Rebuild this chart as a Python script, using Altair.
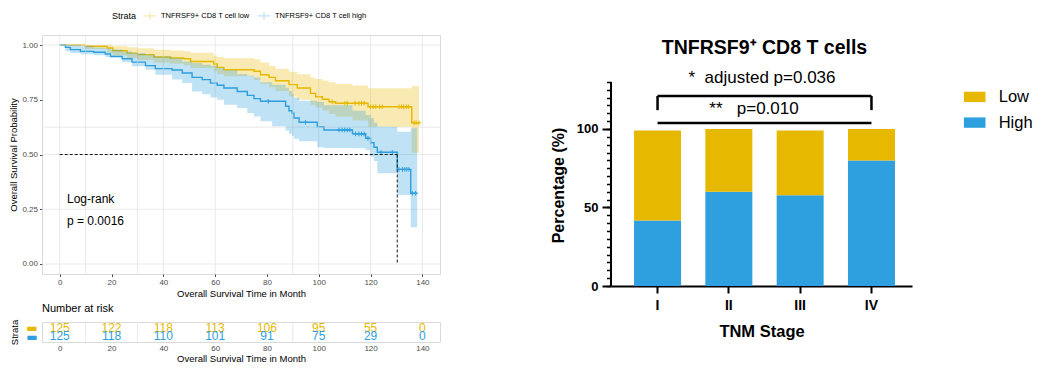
import altair as alt
import pandas as pd

LOW = "TNFRSF9+ CD8 T cell low"
HIGH = "TNFRSF9+ CD8 T cell high"
YELLOW = "#E7B800"
BLUE = "#2E9FDF"
FONT = "Liberation Sans"
GRAY = "#4D4D4D"
NB = "\u00a0"

# ---------------- Kaplan-Meier data ----------------
low_time = [0, 9.9, 18.3, 20.5, 26.0, 30.0, 36.3, 42.6, 47.9, 50.5, 59.5, 60.8, 63.4, 75.0,
            77.5, 80.8, 83.3, 88.5, 91.7, 96.8, 98.8, 101.4, 103.9, 106.5, 113.0, 119.0, 135.9, 138.7]
low_surv = [1.0, 0.994, 0.986, 0.974, 0.963, 0.956, 0.945, 0.941, 0.937, 0.925, 0.913, 0.898, 0.887, 0.880,
            0.864, 0.852, 0.837, 0.819, 0.804, 0.779, 0.764, 0.752, 0.741, 0.734, 0.734, 0.718, 0.645, 0.645]
low_lower = [1.0, 0.982, 0.965, 0.952, 0.940, 0.932, 0.920, 0.914, 0.908, 0.895, 0.880, 0.866, 0.857, 0.840,
             0.822, 0.807, 0.790, 0.765, 0.750, 0.727, 0.715, 0.700, 0.685, 0.672, 0.655, 0.627, 0.508, 0.508]
low_upper = [1.0, 1.0, 1.0, 0.995, 0.990, 0.985, 0.978, 0.975, 0.972, 0.965, 0.952, 0.945, 0.940, 0.935,
             0.920, 0.905, 0.892, 0.878, 0.866, 0.852, 0.845, 0.838, 0.830, 0.822, 0.815, 0.802, 0.813, 0.813]

high_time = [0, 2.2, 4.1, 8.0, 13.1, 17.6, 19.6, 24.1, 27.9, 33.1, 36.9, 43.4, 47.3, 51.1, 55.0, 58.2,
             60.8, 63.4, 68.5, 72.4, 75.0, 77.5, 82.0, 87.2, 88.5, 89.7, 90.4, 92.4, 99.4, 102.0, 113.0,
             118.1, 120.0, 121.3, 122.6, 130.3, 135.5, 138.0]
high_surv = [1.0, 0.989, 0.979, 0.971, 0.967, 0.959, 0.948, 0.937, 0.922, 0.906, 0.892, 0.886, 0.872, 0.852,
             0.842, 0.826, 0.816, 0.804, 0.788, 0.770, 0.755, 0.743, 0.743, 0.720, 0.700, 0.689, 0.667, 0.647,
             0.627, 0.612, 0.594, 0.574, 0.554, 0.533, 0.510, 0.432, 0.323, 0.323]
high_lower = [1.0, 0.972, 0.963, 0.958, 0.953, 0.945, 0.941, 0.922, 0.903, 0.887, 0.864, 0.842, 0.826, 0.788,
              0.775, 0.760, 0.750, 0.727, 0.712, 0.690, 0.674, 0.652, 0.629, 0.610, 0.595, 0.585, 0.572, 0.560,
              0.533, 0.530, 0.528, 0.521, 0.490, 0.470, 0.414, 0.315, 0.168, 0.168]
high_upper = [1.0, 1.0, 1.0, 0.995, 0.989, 0.984, 0.979, 0.970, 0.963, 0.955, 0.948, 0.940, 0.925, 0.918,
              0.910, 0.905, 0.895, 0.885, 0.868, 0.860, 0.852, 0.830, 0.819, 0.805, 0.790, 0.775, 0.760, 0.745,
              0.740, 0.725, 0.700, 0.680, 0.665, 0.645, 0.627, 0.604, 0.620, 0.620]

low_censor = [105.2, 110.1, 111.0, 114.0, 115.5, 116.5, 117.5, 120.0, 121.0, 122.0, 123.5, 124.5,
              131.0, 132.0, 132.8, 133.8, 134.6, 136.8, 137.6, 138.7]
high_censor = [80.5, 94.9, 107.8, 109.0, 110.0, 111.0, 112.0, 114.2, 115.5, 116.5, 117.5, 119.0,
               124.0, 128.4, 131.0, 132.3, 133.2, 134.0, 134.8, 136.1, 137.4]

median_time = 130.3
grid_x = [0, 10, 30, 40, 60, 90, 100, 120, 140]
grid_y = [0, 0.25, 0.5, 0.625, 1.0]
risk_grid_x = [10, 30, 90]

risk_times = [0, 20, 40, 60, 80, 100, 120, 140]
risk_low = [125, 122, 118, 113, 106, 95, 55, 0]
risk_high = [125, 118, 110, 101, 91, 75, 29, 0]

# ---------------- bar chart data ----------------
stages = ["I", "II", "III", "IV"]
pct_high = [41.7, 60.0, 57.8, 80.0]
pct_low = [57.3, 40.0, 41.2, 20.0]
y_axis_top = 130

# ---------------- tables ----------------
km_df = pd.concat([
    pd.DataFrame({"strata": LOW, "time": low_time, "surv": low_surv, "lower": low_lower, "upper": low_upper}),
    pd.DataFrame({"strata": HIGH, "time": high_time, "surv": high_surv, "lower": high_lower, "upper": high_upper}),
])


def step_value(times, values, t):
    v = values[0]
    for tt, vv in zip(times, values):
        if tt <= t:
            v = vv
    return v


cens_df = pd.concat([
    pd.DataFrame({"strata": LOW, "time": low_censor,
                  "surv": [step_value(low_time, low_surv, t) for t in low_censor]}),
    pd.DataFrame({"strata": HIGH, "time": high_censor,
                  "surv": [step_value(high_time, high_surv, t) for t in high_censor]}),
])

median_df = pd.DataFrame({"x0": [0, median_time], "x1": [median_time, median_time],
                          "y0": [0.5, 0.5], "y1": [0.5, 0.0]})
logrank_df = pd.DataFrame({"t": [2.8, 2.8], "s": [0.297, 0.196], "label": ["Log-rank", "p = 0.0016"]})

risk_df = pd.concat([
    pd.DataFrame({"strata": LOW, "time": risk_times, "n": risk_low}),
    pd.DataFrame({"strata": HIGH, "time": risk_times, "n": risk_high}),
])

bar_df = pd.concat([
    pd.DataFrame({"stage": stages, "level": "High", "pct": pct_high, "ord": 0}),
    pd.DataFrame({"stage": stages, "level": "Low", "pct": pct_low, "ord": 1}),
])
bracket_df = pd.DataFrame({"a": ["I", "I", "IV", "I"], "b": ["IV", "I", "IV", "IV"],
                           "y0": [121, 112, 112, 103.8], "y1": [121, 121, 121, 103.8]})
yline_df = pd.DataFrame({"y0": [0], "y1": [y_axis_top]})
one = pd.DataFrame({"a": [0]})

# ---------------- KM panel ----------------
xkm = alt.Scale(domain=[-6.84, 146.8], nice=False, zero=False)
ykm = alt.Scale(domain=[-0.0457, 1.0457], nice=False, zero=False)
cscale = alt.Scale(domain=[LOW, HIGH], range=[YELLOW, BLUE])

km_x_axis = alt.Axis(values=risk_times, title="Overall Survival Time in Month", grid=False, domain=False,
                     tickSize=2.5, tickColor=GRAY, labelColor=GRAY, labelFontSize=8, labelPadding=2,
                     titleFontSize=9.5, titleFontWeight="normal", titleColor="black", titlePadding=2)
km_y_axis = alt.Axis(values=[0, 0.25, 0.5, 0.75, 1.0], format=".2f", title="Overall Survival Probability",
                     grid=False, domain=False, tickSize=2.5, tickColor=GRAY, labelColor=GRAY,
                     labelFontSize=8, labelPadding=2, titleFontSize=9.5, titleFontWeight="normal",
                     titleColor="black", titlePadding=3)
km_legend = alt.Legend(orient="none", legendX=70, legendY=-26.5, direction="horizontal", title="Strata",
                       titleOrient="left", titleFontSize=9, titleFontWeight="normal", titleColor="black",
                       titlePadding=6, labelFontSize=7.5, labelColor="black",
                       symbolType="M-1,0H1M0,-0.55V0.55", symbolSize=160, symbolStrokeWidth=1.3,
                       symbolOpacity=1, symbolFillColor="transparent", labelOffset=4, columnPadding=5,
                       padding=0)

line = alt.Chart(km_df).mark_line(interpolate="step-after", strokeWidth=1.4).encode(
    x=alt.X("time:Q", scale=xkm, axis=km_x_axis),
    y=alt.Y("surv:Q", scale=ykm, axis=km_y_axis),
    color=alt.Color("strata:N", scale=cscale, legend=km_legend))
gv = alt.Chart(pd.DataFrame({"g": grid_x})).mark_rule(color="#E3E3E3", strokeWidth=0.8).encode(
    x=alt.X("g:Q", scale=xkm))
gh = alt.Chart(pd.DataFrame({"g": grid_y})).mark_rule(color="#E3E3E3", strokeWidth=0.8).encode(
    y=alt.Y("g:Q", scale=ykm))
band = alt.Chart(km_df).mark_area(interpolate="step-after", opacity=0.3).encode(
    x=alt.X("time:Q", scale=xkm),
    y=alt.Y("lower:Q", scale=ykm), y2="upper:Q",
    color=alt.Color("strata:N", scale=cscale))
cens = alt.Chart(cens_df).mark_point(shape="M-1,0H1M0,-1V1", size=22, strokeWidth=1, filled=False,
                                     opacity=1).encode(
    x=alt.X("time:Q", scale=xkm),
    y=alt.Y("surv:Q", scale=ykm),
    color=alt.Color("strata:N", scale=cscale))
med = alt.Chart(median_df).mark_rule(color="black", strokeDash=[3, 2], strokeWidth=0.9).encode(
    x=alt.X("x0:Q", scale=xkm), x2="x1:Q",
    y=alt.Y("y0:Q", scale=ykm), y2="y1:Q")
lr = alt.Chart(logrank_df).mark_text(align="left", baseline="middle", fontSize=12, font=FONT,
                                     color="black").encode(
    x=alt.X("t:Q", scale=xkm), y=alt.Y("s:Q", scale=ykm), text="label:N")

km = alt.layer(line, gv, gh, band, cens, med, lr).properties(
    width=398, height=239, view=alt.ViewBackground(stroke="#DADADA", strokeWidth=1))

# ---------------- risk table ----------------
risk_x_axis = alt.Axis(values=risk_times, title="Overall Survival Time in Month", grid=False, domain=False,
                       ticks=False, labelColor=GRAY, labelFontSize=8, labelPadding=2,
                       titleFontSize=9.5, titleFontWeight="normal", titleColor="black", titlePadding=1)
risk_y_axis = alt.Axis(title="Strata", titleFontSize=9.5, titleFontWeight="normal", titleColor="black",
                       labelExpr="'\u25ac'",
                       labelColor={"condition": {"test": "datum.value == '%s'" % LOW, "value": YELLOW},
                                   "value": BLUE},
                       labelFontSize=12, labelFont="DejaVu Sans", ticks=False, domain=False, grid=False,
                       labelPadding=5, titlePadding=6)
rtext = alt.Chart(risk_df).mark_text(fontSize=12, font=FONT, baseline="middle").encode(
    x=alt.X("time:Q", scale=xkm, axis=risk_x_axis),
    y=alt.Y("strata:N", scale=alt.Scale(domain=[LOW, HIGH], type="point", padding=0.69), axis=risk_y_axis),
    text="n:Q",
    color=alt.Color("strata:N", scale=cscale, legend=None))
rgrid = alt.Chart(pd.DataFrame({"g": risk_grid_x})).mark_rule(color="#E3E3E3", strokeWidth=0.8).encode(
    x=alt.X("g:Q", scale=xkm))
risk = alt.layer(rtext, rgrid).properties(
    width=398, height=20,
    title=alt.TitleParams("Number at risk", anchor="start", frame="group", fontSize=11, fontWeight="normal",
                          font=FONT, color="black", offset=5),
    view=alt.ViewBackground(stroke="#DADADA", strokeWidth=1))

# ---------------- bar chart ----------------
xband = alt.Scale(domain=stages, paddingInner=0.341, paddingOuter=0.281, align=0.575)
ybar = alt.Scale(domain=[0, 159.87], nice=False, zero=True)
bar_x_axis = alt.Axis(title="TNM Stage", labelAngle=0, labelFontSize=14, labelFontWeight="bold",
                      labelColor="black", labelPadding=5, tickSize=7, tickWidth=2, tickColor="black",
                      domainColor="black", domainWidth=2, titleFontSize=16.5, titleFontWeight="bold",
                      titleColor="black", titlePadding=11)
bar_y_axis = alt.Axis(orient="left", values=[0, 50, 100], title="Percentage (%)", domain=False, grid=False,
                      tickSize=9, tickWidth=2, tickColor="black", labelFontSize=13, labelFontWeight="bold",
                      labelColor="black", labelPadding=4, titleFontSize=16, titleFontWeight="bold",
                      titleColor="black", titlePadding=10, titleY=150)
minor_axis = alt.Axis(orient="left", values=list(range(0, 131, 5)), labels=False, domain=False, grid=False,
                      tickSize=4.5, tickWidth=1.5, tickColor="black", title=None)
bar_legend = alt.Legend(orient="none", legendX=352.7, legendY=50.9, title=None,
                        symbolType="M-1,-0.48H1V0.48H-1Z", symbolSize=466, symbolStrokeWidth=0,
                        labelFontSize=16.5, labelColor="black", labelOffset=13, rowPadding=5.7, padding=0)

bars = alt.Chart(bar_df).mark_bar().encode(
    x=alt.X("stage:N", scale=xband, axis=bar_x_axis, sort=stages),
    y=alt.Y("pct:Q", stack="zero", scale=ybar, axis=bar_y_axis),
    color=alt.Color("level:N", scale=alt.Scale(domain=["Low", "High"], range=[YELLOW, BLUE]), legend=bar_legend),
    order=alt.Order("ord:Q", sort="ascending"))
brackets = alt.Chart(bracket_df).mark_rule(color="black", strokeWidth=2.5).encode(
    x=alt.X("a:N", scale=xband, sort=stages), x2="b:N",
    y=alt.Y("y0:Q", scale=ybar, axis=minor_axis), y2="y1:Q")
yline = alt.Chart(yline_df).mark_rule(color="black", strokeWidth=2).encode(
    x=alt.value(0), y=alt.Y("y0:Q", scale=ybar, axis=None), y2="y1:Q")
title_txt = alt.Chart(one).mark_text(fontSize=19.5, fontWeight="bold", font=FONT, color="black",
                                     baseline="middle", align="center").encode(
    x=alt.value(153.5), y=alt.value(13.3), text=alt.value("TNFRSF9\u207a CD8 T cells"))
ann1 = alt.Chart(one).mark_text(fontSize=17, font=FONT, color="black", baseline="middle", align="center").encode(
    x=alt.value(151), y=alt.value(43), text=alt.value("*" + NB + NB + "adjusted p=0.036"))
ann2 = alt.Chart(one).mark_text(fontSize=17, font=FONT, color="black", baseline="middle", align="center").encode(
    x=alt.value(143), y=alt.value(74), text=alt.value("**" + NB + NB + NB + "p=0.010"))

bar = alt.layer(bars, brackets, yline, title_txt, ann1, ann2).resolve_axis(y="independent").properties(
    width=301, height=251)

chart = alt.concat(km, bar, risk, columns=2, spacing=alt.RowColnumber(row=36, column=171),
                   bounds="flush", align="each").resolve_scale(color="independent").properties(
    padding=0).configure(font=FONT).configure_view(stroke=None).configure_axis(
    labelFont=FONT, titleFont=FONT).configure_legend(labelFont=FONT, titleFont=FONT)

chart.save("out.html", embed_options={"renderer": "svg", "actions": False})
